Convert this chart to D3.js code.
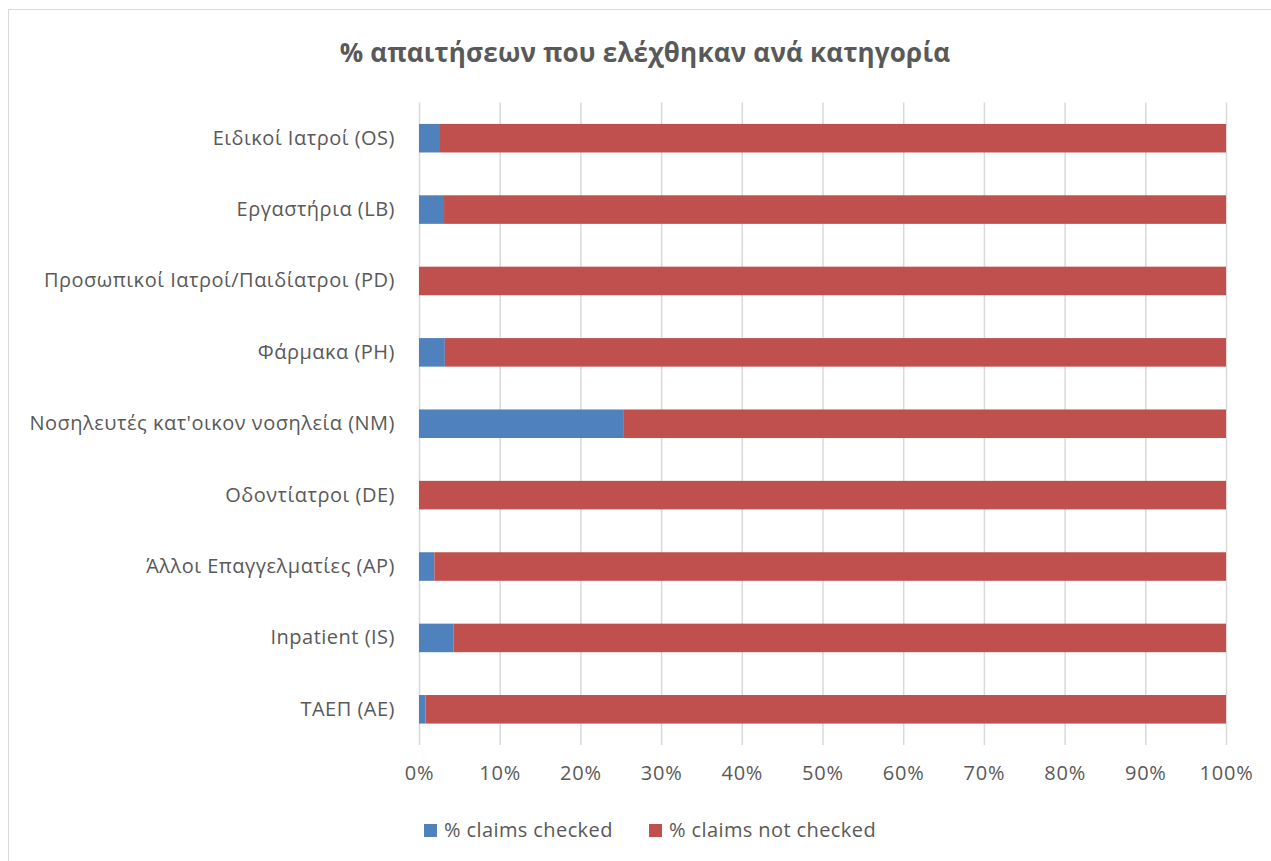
<!DOCTYPE html>
<html>
<head>
<meta charset="utf-8">
<script src="https://cdn.jsdelivr.net/npm/d3@7"></script>
<style>
  html, body { margin: 0; padding: 0; background: #fff; }
  svg { display: block; font-family: "Open Sans", "Noto Sans", sans-serif; }
</style>
</head>
<body>
<svg id="chart" width="1271" height="861"></svg>
<script>
// Claim categories, top to bottom
const categories = [
  "Ειδικοί Ιατροί (OS)",
  "Εργαστήρια (LB)",
  "Προσωπικοί Ιατροί/Παιδίατροι (PD)",
  "Φάρμακα (PH)",
  "Νοσηλευτές κατ'οικον νοσηλεία (NM)",
  "Οδοντίατροι (DE)",
  "Άλλοι Επαγγελματίες (AP)",
  "Inpatient (IS)",
  "ΤΑΕΠ (AE)"
];
// Share of claims checked per category (%)
const checked = [2.6, 3.1, 0, 3.2, 25.3, 0, 1.9, 4.3, 0.8];
// Share of claims not checked per category (%)
const notChecked = [97.4, 96.9, 100, 96.8, 74.7, 100, 98.1, 95.7, 99.2];

const seriesNames = ["% claims checked", "% claims not checked"];
const seriesColors = ["#4f81bd", "#c0504d"];
const tickValues = [0, 10, 20, 30, 40, 50, 60, 70, 80, 90, 100];

const svg = d3.select("#chart");
const W = 1271, H = 861;
const margin = { left: 419, right: 45, top: 102.5, bottom: 116 };
const textColor = "#595959";

// chart frame
svg.append("rect")
  .attr("x", 8.5).attr("y", 9.5)
  .attr("width", W).attr("height", H)
  .attr("fill", "#fff").attr("stroke", "#d9d9d9").attr("stroke-width", 1);

// title
svg.append("text")
  .attr("x", 645).attr("y", 62)
  .attr("text-anchor", "middle")
  .attr("font-size", 26).attr("font-weight", 700)
  .attr("letter-spacing", 0.2)
  .attr("fill", textColor)
  .text("% απαιτήσεων που ελέχθηκαν ανά κατηγορία");

const x = d3.scaleLinear().domain([0, 100]).range([margin.left, W - margin.right]);
const y = d3.scaleBand().domain(categories)
  .range([margin.top, H - margin.bottom]).paddingInner(0.6).paddingOuter(0.3);

// vertical gridlines
svg.append("g").selectAll("line").data(tickValues).join("line")
  .attr("x1", d => x(d) + 0.5).attr("x2", d => x(d) + 0.5)
  .attr("y1", margin.top).attr("y2", H - margin.bottom)
  .attr("stroke", "#d9d9d9").attr("stroke-width", 1.5);

// x axis tick labels
const xAxis = d3.axisBottom(x).tickValues(tickValues).tickFormat(d => d + "%").tickSize(0).tickPadding(21);
const gx = svg.append("g").attr("transform", `translate(0,${H - margin.bottom})`).call(xAxis);
gx.select(".domain").remove();
gx.selectAll("text").attr("font-size", 20).attr("letter-spacing", 0.8).attr("fill", textColor)
  .attr("font-family", "\"Open Sans\", sans-serif");

// y axis category labels
const yAxis = d3.axisLeft(y).tickSize(0).tickPadding(24);
const gy = svg.append("g").attr("transform", `translate(${margin.left},0)`).call(yAxis);
gy.select(".domain").remove();
gy.selectAll("text").attr("font-size", 20).attr("letter-spacing", 0.5).attr("fill", textColor)
  .attr("font-family", "\"Open Sans\", sans-serif");

// stacked bars
const rows = categories.map((c, i) => ({ cat: c, checked: checked[i], notChecked: notChecked[i] }));
const stack = d3.stack().keys(["checked", "notChecked"]);
const layers = stack(rows);

svg.append("g").selectAll("g").data(layers).join("g")
  .attr("fill", (d, i) => seriesColors[i])
  .selectAll("rect").data(d => d).join("rect")
  .attr("x", d => x(d[0]))
  .attr("width", d => Math.max(0, x(d[1]) - x(d[0])))
  .attr("y", d => y(d.data.cat))
  .attr("height", y.bandwidth());

// legend
const legend = svg.append("g");
const legendItems = [
  { name: seriesNames[0], color: seriesColors[0], x: 424 },
  { name: seriesNames[1], color: seriesColors[1], x: 649 }
];
legendItems.forEach(it => {
  legend.append("rect").attr("x", it.x).attr("y", 824).attr("width", 13).attr("height", 13).attr("fill", it.color);
  legend.append("text").attr("x", it.x + 20).attr("y", 837)
    .attr("font-size", 20).attr("letter-spacing", 0.4).attr("fill", textColor).text(it.name);
});
</script>
</body>
</html>
